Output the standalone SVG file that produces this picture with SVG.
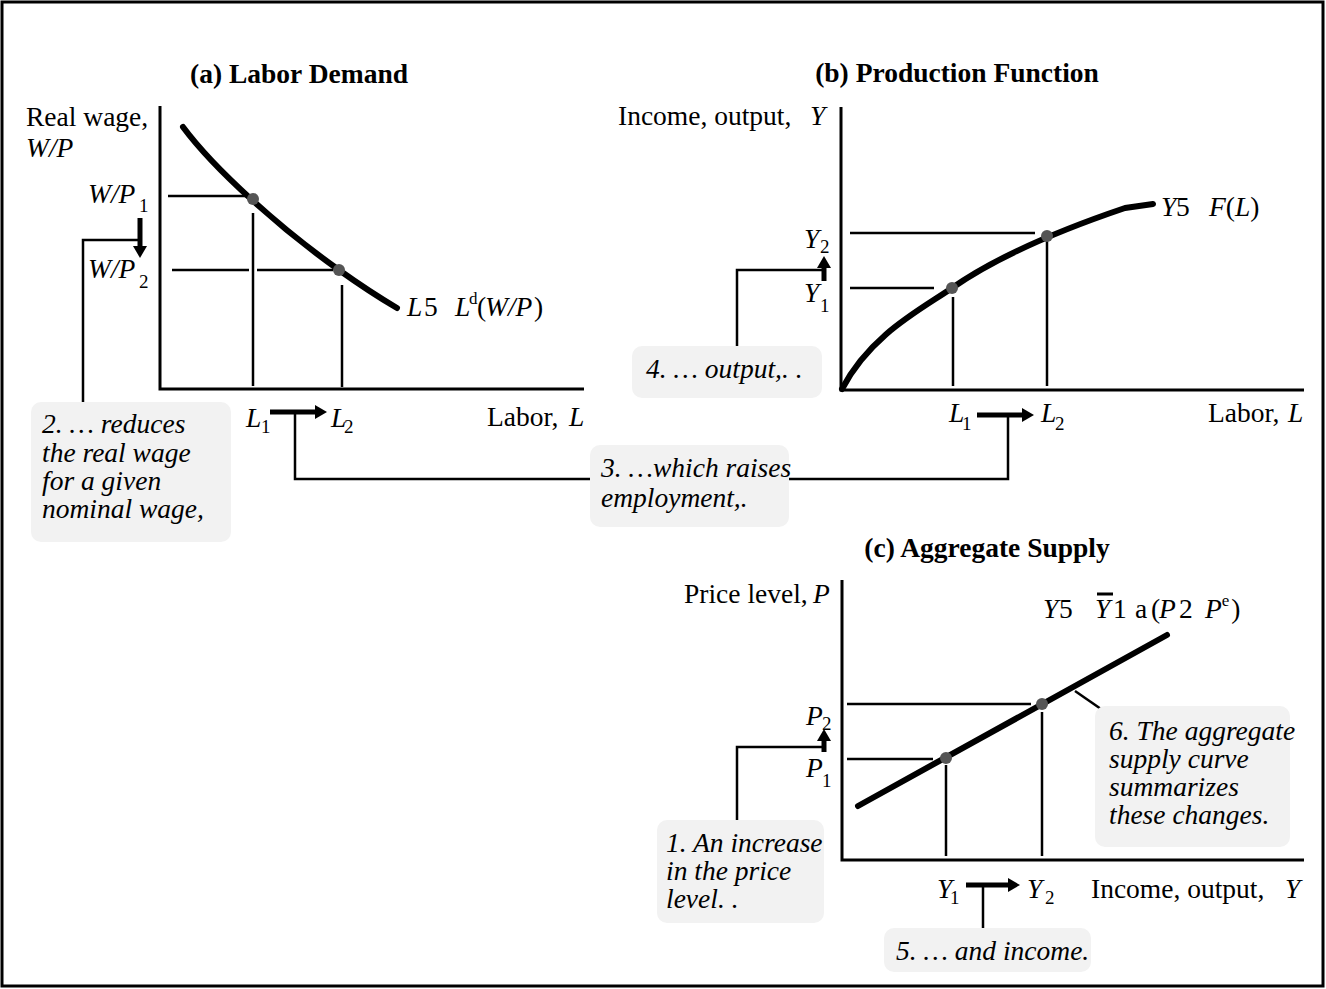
<svg xmlns="http://www.w3.org/2000/svg" width="1326" height="989" viewBox="0 0 1326 989">
<style>
  text { font-family: "Liberation Serif", "Times New Roman", serif; font-size: 27.5px; fill: #000; }
  .i { font-style: italic; }
  .title { font-weight: bold; text-anchor: middle; }
  .note text { font-style: italic; }
  .note rect { fill: #f2f2f2; stroke: none; }
  .sub { font-size: 19px; font-style: normal; }
  .sup { font-size: 17px; font-style: normal; }
  .axis { stroke: #000; stroke-width: 3; fill: none; }
  .guide { stroke: #000; stroke-width: 2.5; fill: none; }
  .curve { stroke: #000; stroke-width: 6; fill: none; stroke-linecap: round; stroke-linejoin: round; }
  .dot { fill: #555; }
  .conn { stroke: #000; stroke-width: 2.5; fill: none; }
  .fat { stroke: #000; stroke-width: 5; fill: none; marker-end: url(#ah); }
</style>
<defs>
  <marker id="ah" markerUnits="userSpaceOnUse" markerWidth="12" markerHeight="14" refX="0" refY="7" orient="auto">
    <path d="M0,0 L12,7 L0,14 z" fill="#000"/>
  </marker>
</defs>

<rect x="2" y="2" width="1321" height="984" fill="#fff" stroke="#000" stroke-width="3"/>

<g id="connectors">
  <polyline class="conn" points="83,402 83,240 139,240"/>
  <polyline class="conn" points="295,412 295,479 1008,479 1008,416"/>
  <polyline class="conn" points="737,346 737,270 825,270"/>
  <polyline class="conn" points="737,820 737,747 825,747"/>
  <line class="conn" x1="983" y1="886" x2="983" y2="928"/>
  <line class="conn" x1="1075" y1="691" x2="1101" y2="709"/>
  <line class="fat" x1="140" y1="218" x2="140" y2="246"/>
  <line class="fat" x1="824" y1="281" x2="824" y2="268"/>
  <line class="fat" x1="824" y1="752" x2="824" y2="741"/>
  <line class="fat" x1="270" y1="412" x2="315" y2="412"/>
  <line class="fat" x1="977" y1="415" x2="1022" y2="415"/>
  <line class="fat" x1="966" y1="885" x2="1008" y2="885"/>
</g>

<g id="panel-a">
  <text class="title" x="299" y="83">(a) Labor Demand</text>
  <polyline class="axis" points="160,106 160,389 584,389"/>
  <line class="guide" x1="168" y1="196" x2="249" y2="196"/>
  <line class="guide" x1="253" y1="213" x2="253" y2="386"/>
  <line class="guide" x1="172" y1="270" x2="249" y2="270"/>
  <line class="guide" x1="257" y1="270" x2="333" y2="270"/>
  <line class="guide" x1="342" y1="285" x2="342" y2="387"/>
  <path class="curve" d="M183,127 C215,170 280,228 339,270 C360,285 380,298 397,308"/>
  <circle class="dot" cx="253" cy="199" r="6"/>
  <circle class="dot" cx="339" cy="270" r="6"/>
  <text x="26" y="126">Real wage,</text>
  <text class="i" x="26" y="157">W/P</text>
  <text class="i" x="88" y="203">W/P</text><text class="sub" x="139" y="212">1</text>
  <text class="i" x="88" y="278">W/P</text><text class="sub" x="139" y="288">2</text>
  <text y="316"><tspan class="i" x="407">L</tspan><tspan x="424">5</tspan><tspan class="i" x="455">L</tspan><tspan class="sup" x="469" y="304">d</tspan><tspan x="477" y="316">(</tspan><tspan class="i" x="485">W/P</tspan><tspan x="534">)</tspan></text>
  <text class="i" x="246" y="427">L</text><text class="sub" x="261" y="433">1</text>
  <text class="i" x="331" y="427">L</text><text class="sub" x="344" y="433">2</text>
  <text x="487" y="426">Labor, <tspan class="i" x="569">L</tspan></text>
</g>

<g id="panel-b">
  <text class="title" x="957" y="82">(b) Production Function</text>
  <polyline class="axis" points="841,107 841,390 1304,390"/>
  <line class="guide" x1="850" y1="233" x2="1035" y2="233"/>
  <line class="guide" x1="850" y1="288" x2="934" y2="288"/>
  <line class="guide" x1="953" y1="297" x2="953" y2="386"/>
  <line class="guide" x1="1047" y1="240" x2="1047" y2="386"/>
  <path class="curve" d="M842,389 C870,335 920,310 952,288 C995,258 1060,230 1125,208 L1153,204"/>
  <circle class="dot" cx="952" cy="288" r="6"/>
  <circle class="dot" cx="1047" cy="236" r="6"/>
  <text x="618" y="125">Income, output, <tspan class="i" x="810">Y</tspan></text>
  <text class="i" x="804" y="248">Y</text><text class="sub" x="820" y="253">2</text>
  <text class="i" x="804" y="302">Y</text><text class="sub" x="820" y="312">1</text>
  <text y="216"><tspan class="i" x="1161">Y</tspan><tspan x="1176">5</tspan><tspan class="i" x="1209">F</tspan><tspan>(</tspan><tspan class="i">L</tspan><tspan>)</tspan></text>
  <text class="i" x="949" y="422">L</text><text class="sub" x="962" y="430">1</text>
  <text class="i" x="1041" y="422">L</text><text class="sub" x="1055" y="430">2</text>
  <text x="1208" y="422">Labor, <tspan class="i" x="1288">L</tspan></text>
</g>

<g id="panel-c">
  <text class="title" x="987" y="557">(c) Aggregate Supply</text>
  <polyline class="axis" points="842,580 842,860 1304,860"/>
  <line class="guide" x1="847" y1="704" x2="1031" y2="704"/>
  <line class="guide" x1="847" y1="759" x2="933" y2="759"/>
  <line class="guide" x1="946" y1="765" x2="946" y2="856"/>
  <line class="guide" x1="1042" y1="712" x2="1042" y2="856"/>
  <line class="curve" x1="858" y1="806" x2="1167" y2="635"/>
  <circle class="dot" cx="946" cy="758" r="6"/>
  <circle class="dot" cx="1042" cy="704" r="6"/>
  <text x="684" y="603">Price level, <tspan class="i" x="813">P</tspan></text>
  <text y="618"><tspan class="i" x="1043">Y</tspan><tspan x="1059">5</tspan><tspan class="i" x="1095">Y</tspan><tspan x="1113">1</tspan><tspan x="1135">a</tspan><tspan x="1151">(</tspan><tspan class="i" x="1159">P</tspan><tspan x="1179">2</tspan><tspan class="i" x="1205">P</tspan><tspan class="sup" dy="-12">e</tspan><tspan dx="2" dy="12">)</tspan></text>
  <line x1="1097" y1="594" x2="1113" y2="594" stroke="#000" stroke-width="3"/>
  <text class="i" x="806" y="725">P</text><text class="sub" x="822" y="730">2</text>
  <text class="i" x="806" y="777">P</text><text class="sub" x="822" y="787">1</text>
  <text class="i" x="937" y="898">Y</text><text class="sub" x="950" y="904">1</text>
  <text class="i" x="1027" y="898">Y</text><text class="sub" x="1045" y="904">2</text>
  <text x="1091" y="898">Income, output, <tspan class="i" x="1285">Y</tspan></text>
</g>

<g id="note1" class="note">
  <rect x="657" y="820" width="167" height="103" rx="10"/>
  <text x="666" y="852">1. An increase</text>
  <text x="666" y="880">in the price</text>
  <text x="666" y="908">level. .</text>
</g>
<g id="note2" class="note">
  <rect x="31" y="402" width="200" height="140" rx="10"/>
  <text x="42" y="433">2. … reduces</text>
  <text x="42" y="462">the real wage</text>
  <text x="42" y="490">for a given</text>
  <text x="42" y="518">nominal wage,</text>
</g>
<g id="note3" class="note">
  <rect x="590" y="445" width="199" height="82" rx="10"/>
  <text x="601" y="477">3. …which raises</text>
  <text x="601" y="507">employment,.</text>
</g>
<g id="note4" class="note">
  <rect x="632" y="346" width="190" height="52" rx="10"/>
  <text x="646" y="378">4. … output,. .</text>
</g>
<g id="note5" class="note">
  <rect x="884" y="928" width="207" height="44" rx="10"/>
  <text x="896" y="960">5. … and income.</text>
</g>
<g id="note6" class="note">
  <rect x="1095" y="706" width="195" height="141" rx="10"/>
  <text x="1109" y="740">6. The aggregate</text>
  <text x="1109" y="768">supply curve</text>
  <text x="1109" y="796">summarizes</text>
  <text x="1109" y="824">these changes.</text>
</g>
</svg>
